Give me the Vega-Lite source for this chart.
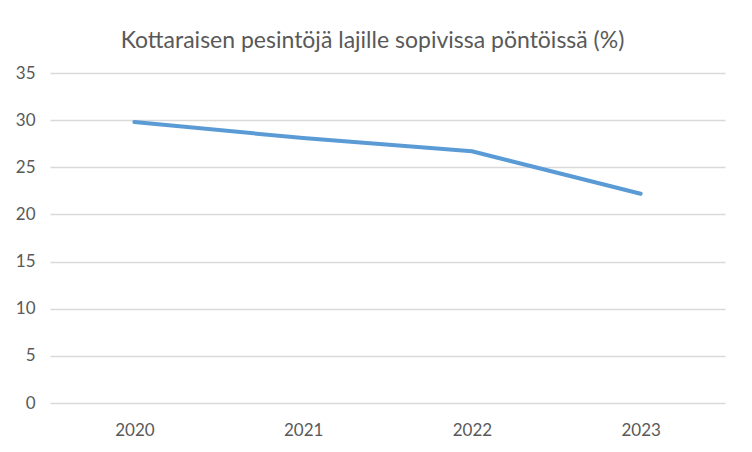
{
  "$schema": "https://vega.github.io/schema/vega-lite/v6.json",
  "width": 675,
  "height": 330,
  "autosize": "none",
  "padding": {"left": 50, "top": 73, "right": 27, "bottom": 49},
  "background": "white",
  "title": {
    "text": "Kottaraisen pesintöjä lajille sopivissa pöntöissä (%)",
    "font": "Lato",
    "fontSize": 23,
    "fontWeight": "normal",
    "color": "#595959",
    "anchor": "middle",
    "dx": -15,
    "offset": 11
  },
  "data": {
    "values": [
      {"year": "2020", "value": 29.8},
      {"year": "2021", "value": 28.1},
      {"year": "2022", "value": 26.7},
      {"year": "2023", "value": 22.2}
    ]
  },
  "mark": {"type": "line", "color": "#5b9bd5", "strokeWidth": 4, "strokeCap": "round", "strokeJoin": "round"},
  "encoding": {
    "x": {
      "field": "year",
      "type": "ordinal",
      "scale": {"type": "point", "padding": 0.5},
      "axis": {
        "title": null,
        "labelAngle": 0,
        "domain": false,
        "ticks": false,
        "grid": false,
        "labelPadding": 19,
        "labelFont": "Lato",
        "labelFontSize": 17,
        "labelColor": "#595959"
      }
    },
    "y": {
      "field": "value",
      "type": "quantitative",
      "scale": {"domain": [0, 35]},
      "axis": {
        "title": null,
        "values": [0, 5, 10, 15, 20, 25, 30, 35],
        "domain": false,
        "ticks": false,
        "gridColor": "#d9d9d9",
        "gridWidth": 1.5,
        "labelPadding": 15,
        "labelFont": "Lato",
        "labelFontSize": 17,
        "labelColor": "#595959"
      }
    }
  },
  "config": {"view": {"stroke": null}}
}
